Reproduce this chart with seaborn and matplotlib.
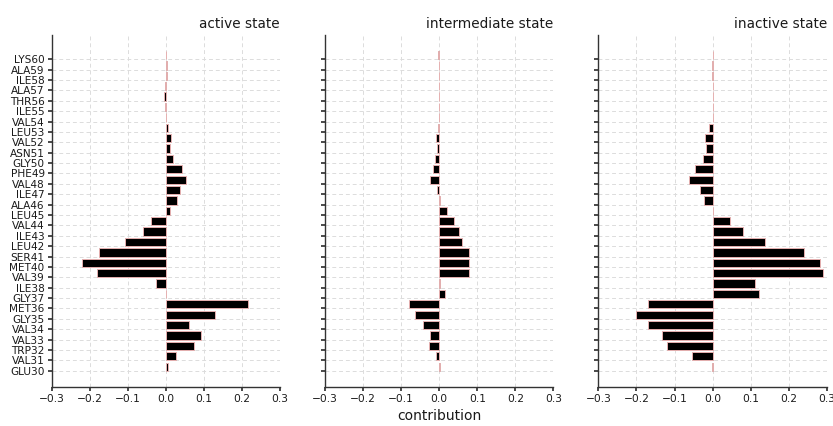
import numpy as np
import pandas as pd
import matplotlib
matplotlib.use("Agg")
import matplotlib.pyplot as plt
import seaborn as sns

residues = ["GLU30", "VAL31", "TRP32", "VAL33", "VAL34", "GLY35", "MET36", "GLY37",
            "ILE38", "VAL39", "MET40", "SER41", "LEU42", "ILE43", "VAL44", "LEU45",
            "ALA46", "ILE47", "VAL48", "PHE49", "GLY50", "ASN51", "VAL52", "LEU53",
            "VAL54", "ILE55", "THR56", "ALA57", "ILE58", "ALA59", "LYS60"]
resnum = list(range(30, 61))

active = [0.007, 0.028, 0.075, 0.092, 0.061, 0.128, 0.217, 0.0005,
          -0.027, -0.180, -0.219, -0.175, -0.107, -0.061, -0.038, 0.012,
          0.029, 0.038, 0.054, 0.042, 0.018, 0.011, 0.013, 0.006,
          0.0005, -0.002, -0.005, -0.002, 0.003, 0.002, 0.0005]
intermediate = [0.001, -0.009, -0.027, -0.023, -0.042, -0.064, -0.080, 0.016,
                0.003, 0.079, 0.077, 0.077, 0.059, 0.051, 0.038, 0.021,
                0.002, -0.007, -0.023, -0.016, -0.011, -0.007, -0.009, -0.004,
                0.0005, 0.0005, 0.0005, 0.0005, -0.001, -0.0005, -0.004]
inactive = [-0.002, -0.055, -0.119, -0.134, -0.169, -0.200, -0.169, 0.123,
            0.112, 0.291, 0.281, 0.240, 0.138, 0.080, 0.045, 0.002,
            -0.023, -0.033, -0.062, -0.046, -0.025, -0.018, -0.019, -0.009,
            0.0005, 0.002, 0.0005, 0.0005, -0.002, -0.0005, 0.0005]

states = ["active state", "intermediate state", "inactive state"]
series = [active, intermediate, inactive]
xticks = [-0.3, -0.2, -0.1, 0.0, 0.1, 0.2, 0.3]

sns.set_theme(style="ticks", rc={
    "axes.grid": True,
    "grid.linestyle": (0, (4, 3)),
    "grid.color": "#dcdcdc",
    "grid.linewidth": 0.7,
    "axes.edgecolor": "#333333",
    "axes.linewidth": 1.0,
    "xtick.color": "#333333",
    "ytick.color": "#333333",
    "xtick.labelcolor": "#1a1a1a",
    "ytick.labelcolor": "#1a1a1a",
    "text.color": "#1a1a1a",
    "axes.labelcolor": "#1a1a1a",
})
plt.rcParams["font.family"] = ["DejaVu Sans"]

fig, axes = plt.subplots(1, 3, figsize=(8.33, 4.26), dpi=100, sharey=True)
fig.subplots_adjust(left=0.062, right=0.9925, top=0.918, bottom=0.092, wspace=0.197)

for ax, title, vals in zip(axes, states, series):
    df = pd.DataFrame({"resnum": resnum, "contribution": vals})
    # bars drawn with their lower edge on the residue tick (edge alignment)
    df["pos"] = df["resnum"] + 0.4
    sns.barplot(data=df, x="contribution", y="pos", orient="h", native_scale=True,
                width=0.8, color="black", saturation=1, edgecolor="#e6b0b0",
                linewidth=0.7, errorbar=None, ax=ax)
    ax.set_xlim(-0.3, 0.3)
    ax.set_xticks(xticks)
    ax.set_xticklabels([f"{t:.1f}".replace("-", "\u2212") for t in xticks], fontsize=7.7)
    ax.set_yticks(resnum)
    ax.set_ylabel("")
    ax.set_xlabel("")
    ax.set_title(title, loc="right", fontsize=9.8, pad=5)
    ax.tick_params(axis="y", length=3, pad=2)
    ax.tick_params(axis="x", length=3, pad=2)
    sns.despine(ax=ax)

axes[0].set_yticklabels(residues, fontsize=7.6)
axes[0].set_ylim(30 - 0.05 * 30.8, 60.8 + 0.05 * 30.8)
axes[1].set_xlabel("contribution", fontsize=10, labelpad=4)

fig.savefig("out.png", dpi=100)
